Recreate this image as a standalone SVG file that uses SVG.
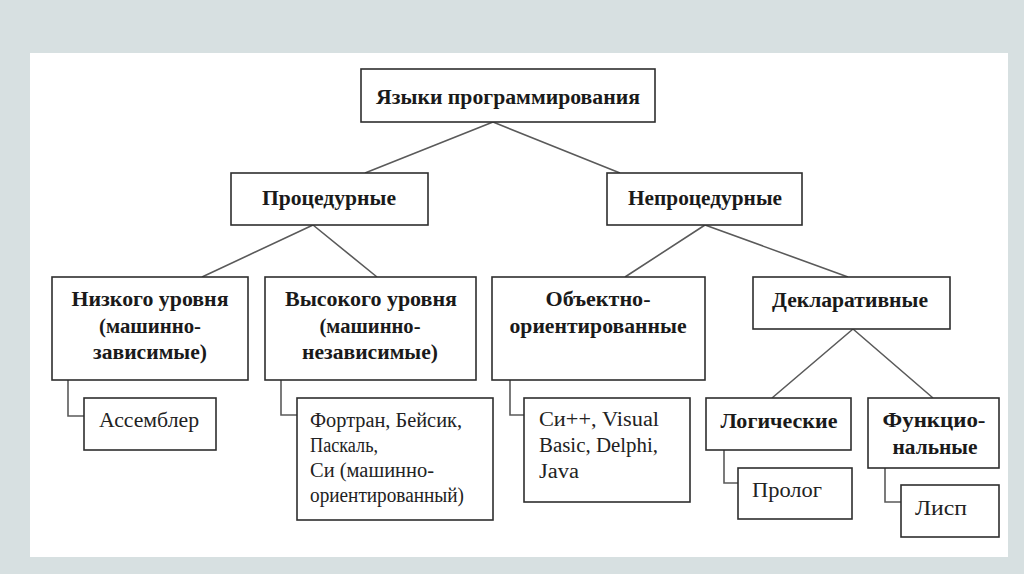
<svg xmlns="http://www.w3.org/2000/svg" width="1024" height="574" viewBox="0 0 1024 574">
<style>
.box{fill:#fff;stroke:#2e2e2e;stroke-width:1.6}
.con{fill:none;stroke:#5a5a5a;stroke-width:1.6}
.h{font-family:"Liberation Serif","Times New Roman",serif;font-weight:bold;font-size:20px;fill:#1a1a1a;text-anchor:middle}
.r{font-family:"Liberation Serif","Times New Roman",serif;font-size:20px;fill:#222}
</style>
<rect x="0" y="0" width="1024" height="574" fill="#d7e0e1"/>
<rect x="30" y="53" width="978" height="504" fill="#fff"/>
<g id="connectors">
<path class="con" d="M493,122 L365,173 M493,122 L620,173"/>
<path class="con" d="M313,225 L202,277 M313,225 L377,277"/>
<path class="con" d="M705,225 L625,277 M705,225 L848,277"/>
<path class="con" d="M853,329 L772,398 M853,329 L933,398"/>
<path class="con" d="M68,380 V416 H84 M281,380 V415 H297 M510,380 V415 H524 M724,450 V483 H738 M885,468 V502 H901"/>
</g>
<g id="root"><rect class="box" x="361" y="69" width="294" height="53"/>
<text class="h" x="508" y="104" font-size="26" textLength="264" lengthAdjust="spacingAndGlyphs">Языки программирования</text></g>
<g id="proc"><rect class="box" x="231" y="173" width="197" height="52"/>
<text class="h" x="329" y="205" textLength="134" lengthAdjust="spacingAndGlyphs">Процедурные</text></g>
<g id="nonproc"><rect class="box" x="607" y="173" width="195" height="52"/>
<text class="h" x="705" y="205" textLength="154" lengthAdjust="spacingAndGlyphs">Непроцедурные</text></g>
<g id="low"><rect class="box" x="52" y="277" width="196" height="103"/>
<text class="h" x="150" y="306" textLength="157" lengthAdjust="spacingAndGlyphs">Низкого уровня</text>
<text class="h" x="150" y="333" textLength="102" lengthAdjust="spacingAndGlyphs">(машинно-</text>
<text class="h" x="150" y="359" textLength="114" lengthAdjust="spacingAndGlyphs">зависимые)</text></g>
<g id="high"><rect class="box" x="265" y="277" width="211" height="103"/>
<text class="h" x="371" y="306" textLength="172" lengthAdjust="spacingAndGlyphs">Высокого уровня</text>
<text class="h" x="370" y="333" textLength="101" lengthAdjust="spacingAndGlyphs">(машинно-</text>
<text class="h" x="370" y="359" textLength="136" lengthAdjust="spacingAndGlyphs">независимые)</text></g>
<g id="oop"><rect class="box" x="492" y="277" width="213" height="103"/>
<text class="h" x="598" y="306" textLength="105" lengthAdjust="spacingAndGlyphs">Объектно-</text>
<text class="h" x="598" y="333" textLength="177" lengthAdjust="spacingAndGlyphs">ориентированные</text></g>
<g id="decl"><rect class="box" x="753" y="277" width="197" height="52"/>
<text class="h" x="850" y="307" textLength="156" lengthAdjust="spacingAndGlyphs">Декларативные</text></g>
<g id="asm"><rect class="box" x="84" y="398" width="132" height="52"/>
<text class="r" x="99" y="427" textLength="100" lengthAdjust="spacingAndGlyphs">Ассемблер</text></g>
<g id="fortran"><rect class="box" x="297" y="398" width="196" height="122"/>
<text class="r" x="310" y="427" textLength="152" lengthAdjust="spacingAndGlyphs">Фортран, Бейсик,</text>
<text class="r" x="310" y="452" textLength="68" lengthAdjust="spacingAndGlyphs">Паскаль,</text>
<text class="r" x="310" y="477" textLength="124" lengthAdjust="spacingAndGlyphs">Си (машинно-</text>
<text class="r" x="310" y="502" textLength="154" lengthAdjust="spacingAndGlyphs">ориентированный)</text></g>
<g id="cpp"><rect class="box" x="524" y="398" width="166" height="104"/>
<text class="r" x="539" y="426" textLength="120" lengthAdjust="spacingAndGlyphs">Си++, Visual</text>
<text class="r" x="539" y="452" textLength="119" lengthAdjust="spacingAndGlyphs">Basic, Delphi,</text>
<text class="r" x="539" y="478" textLength="40" lengthAdjust="spacingAndGlyphs">Java</text></g>
<g id="logic"><rect class="box" x="706" y="398" width="145" height="52"/>
<text class="h" x="779" y="428" textLength="117" lengthAdjust="spacingAndGlyphs">Логические</text></g>
<g id="func"><rect class="box" x="868" y="398" width="131" height="70"/>
<text class="h" x="934" y="427" textLength="103" lengthAdjust="spacingAndGlyphs">Функцио-</text>
<text class="h" x="935" y="454" textLength="85" lengthAdjust="spacingAndGlyphs">нальные</text></g>
<g id="prolog"><rect class="box" x="738" y="468" width="114" height="51"/>
<text class="r" x="752" y="497" textLength="70" lengthAdjust="spacingAndGlyphs">Пролог</text></g>
<g id="lisp"><rect class="box" x="901" y="485" width="98" height="52"/>
<text class="r" x="915" y="515" textLength="52" lengthAdjust="spacingAndGlyphs">Лисп</text></g>
</svg>
